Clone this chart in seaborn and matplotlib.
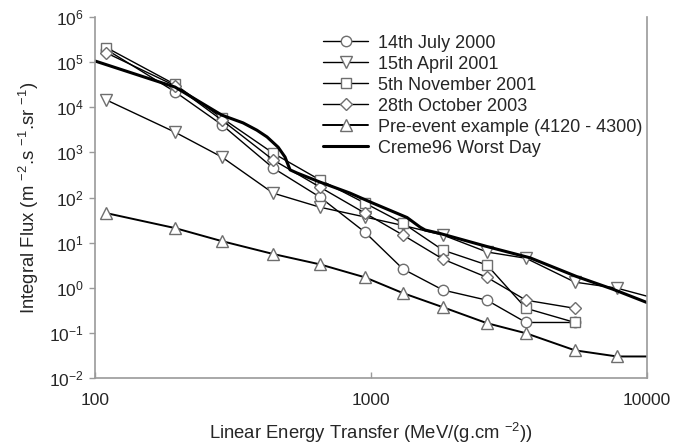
import numpy as np
import pandas as pd
import matplotlib
matplotlib.use("Agg")
import matplotlib.pyplot as plt
import seaborn as sns

sns.set_style("white")
plt.rcParams['font.family'] = ['Liberation Sans', 'DejaVu Sans']
plt.rcParams['mathtext.fontset'] = 'custom'
plt.rcParams['mathtext.rm'] = 'Liberation Sans'
plt.rcParams['mathtext.it'] = 'Liberation Sans'
plt.rcParams['mathtext.default'] = 'regular'

# LET bins (MeV/(g.cm-2))
let_circle = [110, 195, 288, 442, 653, 951, 1306, 1823, 2631, 3645, 5483]
flux_circle = [1.9e5, 2.2e4, 4.1e3, 450, 102, 17, 2.6, 0.89, 0.53, 0.17, 0.17]

let_tri_down = [110, 195, 288, 442, 653, 951, 1306, 1823, 2631, 3645, 5483, 7786, 10000]
flux_tri_down = [1.45e4, 2.8e3, 790, 125, 61, 37, 24, 14.7, 6.2, 4.5, 1.33, 0.98, 0.65]

let_square = [110, 195, 288, 442, 653, 951, 1306, 1823, 2631, 3645, 5483]
flux_square = [2.1e5, 3.2e4, 5.8e3, 960, 245, 75, 27, 6.8, 3.2, 0.35, 0.17]

let_diamond = [110, 195, 288, 442, 653, 951, 1306, 1823, 2631, 3645, 5483]
flux_diamond = [1.6e5, 3.0e4, 5.2e3, 680, 170, 45, 14.7, 4.3, 1.7, 0.53, 0.35]

let_pre = [110, 195, 288, 442, 653, 951, 1306, 1823, 2631, 3645, 5483, 7786, 10000]
flux_pre = [45, 21, 10.8, 5.6, 3.3, 1.7, 0.76, 0.37, 0.164, 0.098, 0.041, 0.030, 0.030]

let_creme = [100, 195, 288, 344, 386, 420, 461, 488, 509, 539, 653, 837, 1016,
             1351, 1507, 1572, 1775, 2689, 3772, 5563, 7516, 10000]
flux_creme = [1.06e5, 2.8e4, 6.7e3, 4.5e3, 3.1e3, 2.2e3, 1.3e3, 790, 410, 350, 220,
              126, 75, 36, 22, 19, 16, 7.9, 4.6, 1.77, 0.93, 0.47]

labels = ["14th July 2000", "15th April 2001", "5th November 2001",
          "28th October 2003", "Pre-event example (4120 - 4300)", "Creme96 Worst Day"]

fig = plt.figure(figsize=(6.73, 4.45), dpi=100)
ax = fig.add_axes([95/673, 1-378/445, 552/673, 361/445])

edge = '#6e6e6e'
common = dict(color='black', markerfacecolor='white', markeredgecolor=edge,
              markeredgewidth=1.0, sort=False, estimator=None)

sns.lineplot(x=let_circle, y=flux_circle, marker='o', markersize=7.5, linewidth=1.0,
             label=labels[0], ax=ax, **common)
sns.lineplot(x=let_tri_down, y=flux_tri_down, marker='v', markersize=8, linewidth=1.0,
             markevery=list(range(len(let_tri_down)-1)), label=labels[1], ax=ax, **common)
sns.lineplot(x=let_square, y=flux_square, marker='s', markersize=7, linewidth=1.0,
             label=labels[2], ax=ax, **common)
sns.lineplot(x=let_diamond, y=flux_diamond, marker='D', markersize=6.5, linewidth=1.0,
             label=labels[3], ax=ax, **common)
sns.lineplot(x=let_pre, y=flux_pre, marker='^', markersize=8, linewidth=1.4,
             markevery=list(range(len(let_pre)-1)), label=labels[4], ax=ax, **common)
sns.lineplot(x=let_creme, y=flux_creme, color='black', linewidth=2.2, sort=False,
             estimator=None, label=labels[5], ax=ax)

ax.set_xscale('log')
ax.set_yscale('log')
ax.set_xlim(100, 10000)
ax.set_ylim(1e-2, 1e6)
ax.set_yticks([10.0**k for k in range(-2, 7)])
ax.set_xticks([100, 1000, 10000])
ax.set_xticklabels(['100', '1000', '10000'])
ax.minorticks_off()

for s in ['left', 'bottom', 'right']:
    ax.spines[s].set_visible(True)
    ax.spines[s].set_color('#9a9a9a')
    ax.spines[s].set_linewidth(1.2)
ax.spines['top'].set_visible(False)

ax.tick_params(axis='y', which='major', direction='out', length=4, width=1,
               color='#9a9a9a', labelsize=12.5, pad=4, left=True)
ax.tick_params(axis='x', which='major', direction='in', length=4, width=1,
               color='#9a9a9a', labelsize=12.5, pad=11, bottom=True)

ax.set_xlabel('Linear Energy Transfer (MeV/(g.cm $^{-2}$))', fontsize=13.3, labelpad=9)
ax.set_ylabel('Integral Flux (m $^{-2}$.s $^{-1}$.sr $^{-1}$)', fontsize=13.3, labelpad=6)

leg = ax.legend(loc='upper left', bbox_to_anchor=(0.413, 0.951), frameon=False,
                fontsize=13, handlelength=2.5, handletextpad=0.55, labelspacing=0.22,
                borderpad=0.0, borderaxespad=0.0)

fig.savefig('out.png', dpi=100)
